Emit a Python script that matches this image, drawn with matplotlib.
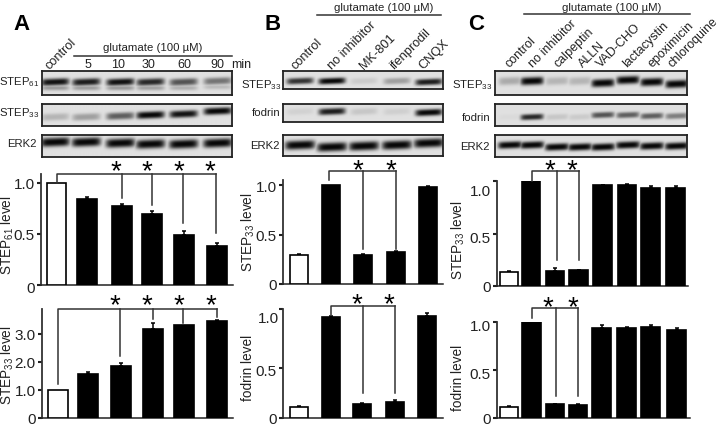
import numpy as np
import matplotlib
matplotlib.use("Agg")
import matplotlib.pyplot as plt
from matplotlib.transforms import ScaledTranslation

plt.rcParams['font.family'] = ['Liberation Sans', 'DejaVu Sans']
plt.rcParams['mathtext.default'] = 'regular'
W, H = 720, 427

# ---------- bar data ----------
a1_vals = [1.0, 0.84, 0.775, 0.695, 0.49, 0.38]
a1_errs = [0, 0.02, 0.015, 0.025, 0.04, 0.03]
a2_vals = [1.0, 1.56, 1.85, 3.18, 3.31, 3.45]
a2_errs = [0, 0.1, 0.1, 0.2, 0, 0.05]
b1_vals = [0.29, 1.0, 0.29, 0.32, 0.98]
b1_errs = [0.015, 0, 0.01, 0.01, 0.01]
b2_vals = [0.113, 1.01, 0.145, 0.16, 1.02]
b2_errs = [0.01, 0.01, 0.01, 0.025, 0.03]
c1_vals = [0.13, 1.0, 0.146, 0.152, 0.96, 0.965, 0.93, 0.93]
c1_errs = [0.01, 0, 0.03, 0.005, 0.005, 0.01, 0.025, 0.025]
c2_vals = [0.118, 1.01, 0.146, 0.135, 0.935, 0.94, 0.945, 0.92]
c2_errs = [0.01, 0, 0.005, 0.01, 0.03, 0.01, 0.02, 0.02]

# ---------- blot band strengths ----------
a_step61 = [0.95, 0.9, 0.95, 0.85, 0.65, 0.5]
a_step33 = [0.2, 0.3, 0.6, 1.0, 0.95, 1.0]
a_erk2 = [1, 1, 1, 1, 1, 1]
b_step33 = [0.8, 1.0, 0.1, 0.3, 0.9]
b_fodrin = [0.07, 0.9, 0.12, 0.08, 1.0]
b_erk2 = [1, 1, 1, 1, 1]
c_step33 = [0.25, 1.0, 0.2, 0.2, 1.0, 1.0, 1.0, 1.0]
c_fodrin = [0.03, 0.85, 0.12, 0.1, 0.65, 0.6, 0.6, 0.45]
c_erk2 = [1, 1, 1, 1, 1, 1, 1, 1]

# ---------- labels ----------
a_lanes_text = ['5', '10', '30', '60', '90']
b_lanes_text = ['control', 'no inhibitor', 'MK-801', 'ifenprodil', 'CNQX']
c_lanes_text = ['control', 'no inhibitor', 'calpeptin', 'ALLN', 'VAD-CHO',
                'lactacystin', 'epoximicin', 'chloroquine']
glu = 'glutamate (100 µM)'
S61 = 'STEP$_{61}$'
S33 = 'STEP$_{33}$'

# ---------- layout (pixels) ----------
a1_x = [56.5, 87, 122, 152, 184, 217]
a2_x = [58, 88, 120.5, 153, 184, 217]
b1_x = [299, 331, 363, 396, 428]
b2_x = [299, 331, 362, 395, 427]
c1_x = [509, 531, 555, 578.5, 602.5, 627, 650.5, 675.5]
c2_x = [509, 531.5, 555, 578, 601.5, 626.5, 650.5, 676.5]


def fig_rect(l, t, r, b):
    return [l / W, 1 - b / H, (r - l) / W, (b - t) / H]


fig = plt.figure(figsize=(W / 100, H / 100), dpi=100, facecolor='white')
ov = fig.add_axes([0, 0, 1, 1], zorder=5)
ov.set_xlim(0, W)
ov.set_ylim(H, 0)
ov.axis('off')


def blot(l, t, r, b, strengths, lanes, ys, half, thick, second=None, bg=0.88):
    ax = fig.add_axes(fig_rect(l, t, r, b))
    sx = 3
    xs = np.linspace(l, r, int((r - l) * sx))
    yy = np.linspace(t, b, int((b - t) * sx))
    X, Y = np.meshgrid(xs, yy)
    dark = np.zeros_like(X)
    for s, cx, cy in zip(strengths, lanes, ys):
        env = np.exp(-np.abs((X - cx) / half) ** 6)
        band = np.exp(-np.abs((Y - cy + 0.04 * (X - cx)) / thick) ** 2.6)
        dark = np.maximum(dark, s * env * band)
        if second:
            band2 = np.exp(-np.abs((Y - cy - second) / (thick * 0.7)) ** 2)
            dark = np.maximum(dark, 0.35 * s * env * band2)
    img = bg - (bg - 0.03) * dark
    ax.imshow(img, cmap='gray', vmin=0, vmax=1, extent=(l, r, b, t),
              aspect='auto', interpolation='bilinear')
    ax.set_xticks([])
    ax.set_yticks([])
    for s in ax.spines.values():
        s.set_linewidth(1.3)
        s.set_color('#222222')


def bars(l, r, top, base, scale, xs, vals, errs, width, ticks, ticklabels,
         label_dy=(0, 0, 0), label=None, label_xy=None):
    ax = fig.add_axes(fig_rect(l, top, r, base))
    ax.patch.set_alpha(0)
    ax.set_xlim(l, r)
    ax.set_ylim(0, (base - top) / scale)
    colors = ['white'] + ['black'] * (len(vals) - 1)
    ax.bar(xs, vals, width=width, color=colors, edgecolor='black', linewidth=1.2, zorder=3)
    for x, v, e in zip(xs, vals, errs):
        if e > 0:
            ax.errorbar([x], [v], yerr=[[0], [e]], color='black', capsize=1.6,
                        elinewidth=1.1, capthick=1.1, zorder=2)
    for s in ('top', 'right'):
        ax.spines[s].set_visible(False)
    ax.spines['left'].set_linewidth(1.3)
    ax.spines['left'].set_color('#333333')
    ax.spines['bottom'].set_linewidth(1.1)
    ax.spines['bottom'].set_color('#222222')
    ax.set_xticks([])
    ax.set_yticks(ticks)
    ax.set_yticklabels(ticklabels)
    ax.tick_params(axis='y', length=3, width=1.5, pad=1.5, labelsize=11,
                   labelcolor='#222222', color='#222222')
    for tl, dy in zip(ax.get_yticklabels(), label_dy):
        tl.set_transform(tl.get_transform() + ScaledTranslation(0, -dy / 100, fig.dpi_scale_trans))
    ov.text(label_xy[0], label_xy[1], label, rotation=90, ha='center', va='center',
            fontsize=9.8, color='#222222')
    return ax


def bracket(ax, x0, y0, level, drops, stars, star_y):
    """x0/y0: first leg; drops: (x, end value); stars: x pixel positions."""
    lc = '#333333'
    xr = max(d[0] for d in drops)
    ax.plot([x0, x0, xr], [y0, level, level], color=lc, lw=1.1, clip_on=False, zorder=4)
    for x, end in drops:
        ax.plot([x, x], [level, end], color=lc, lw=1.1, clip_on=False, zorder=4)
    for sx in stars:
        ov.text(sx, star_y + 1, '*', fontsize=20, ha='center', va='center_baseline', color='black')


# ---------- blots ----------
la = [55, 86, 120, 150, 183, 217]
lb = [300, 332, 364, 397, 429]
lc_ = [510, 532, 557, 580, 603, 628, 652, 677]
blot(42, 72, 232, 96, a_step61, la, [83, 83, 83, 83, 83, 82], 14, 3.6, second=6)
blot(42, 105, 232, 127, a_step33, la, [118, 118, 117, 116, 115, 112], 14, 3.6)
blot(42, 136, 232, 158, a_erk2, la, [143, 143, 144, 145, 145, 144], 14.5, 4.5)
blot(283, 72, 443, 90, b_step33, lb, [82, 82, 82, 82, 83], 13.5, 3.2)
blot(283, 105, 443, 123, b_fodrin, lb, [113, 113, 113, 113, 114], 13.5, 3.2)
blot(283, 136, 443, 157, b_erk2, lb, [146, 148, 147, 146, 144], 15, 4.5)
blot(495, 72, 687, 96, c_step33, lc_, [82, 82, 82, 82, 84, 81, 83, 85], 11.5, 4)
blot(495, 105, 687, 127, c_fodrin, lc_, [118, 118, 118, 118, 116, 116, 117, 117], 11.5, 3)
blot(495, 136, 687, 158, c_erk2, lc_, [146, 146, 148, 148, 148, 146, 147, 147], 12, 3.6)

# ---------- bar panels ----------
ax = bars(41, 233, 175, 285.7, 102, a1_x, a1_vals, a1_errs, 19.5, [0, 0.5, 1.0], ['0', '0.5', '1.0'],
          label_dy=(2, 0, 0), label=S61 + ' level', label_xy=(7.5, 235))
bracket(ax, 57, 1.0, 1.085, [(122, 0.85), (152, 0.78), (183, 0.605), (216, 0.505)], [116, 147, 179, 210], 168)

ax = bars(42, 233, 310, 419, 28, a2_x, a2_vals, a2_errs, 20, [0, 1, 2, 3], ['0', '1.0', '2.0', '3.0'],
          label_dy=(0, 0, 0, 0), label=S33 + ' level', label_xy=(7.5, 365))
bracket(ax, 58, 1.2, 3.9, [(120, 2.2), (153, 3.55), (183, 3.4), (217, 3.6)], [115, 147, 179, 211], 302)

ax = bars(283, 443, 181, 285, 99, b1_x, b1_vals, b1_errs, 18.5, [0, 0.5, 1.0], ['0', '0.5', '1.0'],
          label=S33 + ' level', label_xy=(248, 232))
bracket(ax, 329, 1.05, 1.14, [(363, 0.355), (396, 0.355)], [358, 391], 167)

ax = bars(283, 443, 310, 419, 100, b2_x, b2_vals, b2_errs, 18.5, [0, 0.5, 1.09], ['0', '0.5', ''],
          label_dy=(0, 2, 0), label='fodrin level', label_xy=(248, 368))
ax.text(-0.025, 1.0, '1.0', transform=ax.get_yaxis_transform(), ha='right', va='center',
        fontsize=11, color='#222222')
bracket(ax, 331, 1.03, 1.12, [(363, 0.25), (395, 0.25)], [357, 389], 301)

ax = bars(497, 688, 182, 287, 105, c1_x, c1_vals, c1_errs, 18.5, [0, 0.5, 1.0], ['0', '0.5', '1.0'],
          label_dy=(0, 3, 8), label=S33 + ' level', label_xy=(458, 240))
bracket(ax, 532, 1.0, 1.095, [(557, 0.248), (579, 0.248)], [550, 572], 167)

ax = bars(497, 690, 323, 419, 96, c2_x, c2_vals, c2_errs, 18.5, [0, 0.5, 1.0], ['0', '0.5', '1.0'],
          label_dy=(0, 3, 3), label='fodrin level', label_xy=(458, 378))
bracket(ax, 532, 1.04, 1.15, [(556, 0.23), (578, 0.23)], [548, 573], 304)

# ---------- overlay text ----------
for s, x, y in [('A', 21, 25), ('B', 273, 25), ('C', 476, 25)]:
    ov.text(x, y, s, fontsize=16, fontweight='bold', ha='center', va='center', color='black')

tc = '#222222'
for cx, y, (x0, x1), ly in [(153, 48, (74, 232), 57), (384, 8, (317, 441), 16), (612, 8, (524, 690), 15)]:
    ov.text(cx, y, glu, fontsize=8.2, ha='center', va='center', color=tc)
    ov.plot([x0, x1], [ly, ly], color='#333333', lw=1.1)

# panel A top labels
ov.text(50, 70, 'control', rotation=45, fontsize=9.2, ha='left', va='baseline',
        rotation_mode='anchor', color=tc)
for s, x in zip(a_lanes_text, [88, 118, 149, 184, 217]):
    ov.text(x, 65, s, fontsize=9, ha='center', va='center', color=tc)
ov.text(231, 65, 'min', fontsize=9, ha='left', va='center', color=tc)

# rotated labels B, C
for s, x in zip(b_lanes_text, [295, 332, 364, 394, 423]):
    ov.text(x, 70, s, rotation=45, fontsize=9.2, ha='left', va='baseline', rotation_mode='anchor', color=tc)
for s, x in zip(c_lanes_text, [509, 533, 558, 583, 601, 627, 652, 672]):
    ov.text(x, 68, s, rotation=45, fontsize=9.0, ha='left', va='baseline', rotation_mode='anchor', color=tc)

# blot labels
for s, x, y in [(S61, 39, 82), (S33, 39, 113), ('ERK2', 37, 144),
                (S33, 281, 85), ('fodrin', 280, 113), ('ERK2', 280, 146),
                (S33, 492, 85), ('fodrin', 490, 118), ('ERK2', 490, 147)]:
    ov.text(x, y, s, fontsize=8.2, ha='right', va='center', color=tc)

fig.savefig('out.png', dpi=100)
